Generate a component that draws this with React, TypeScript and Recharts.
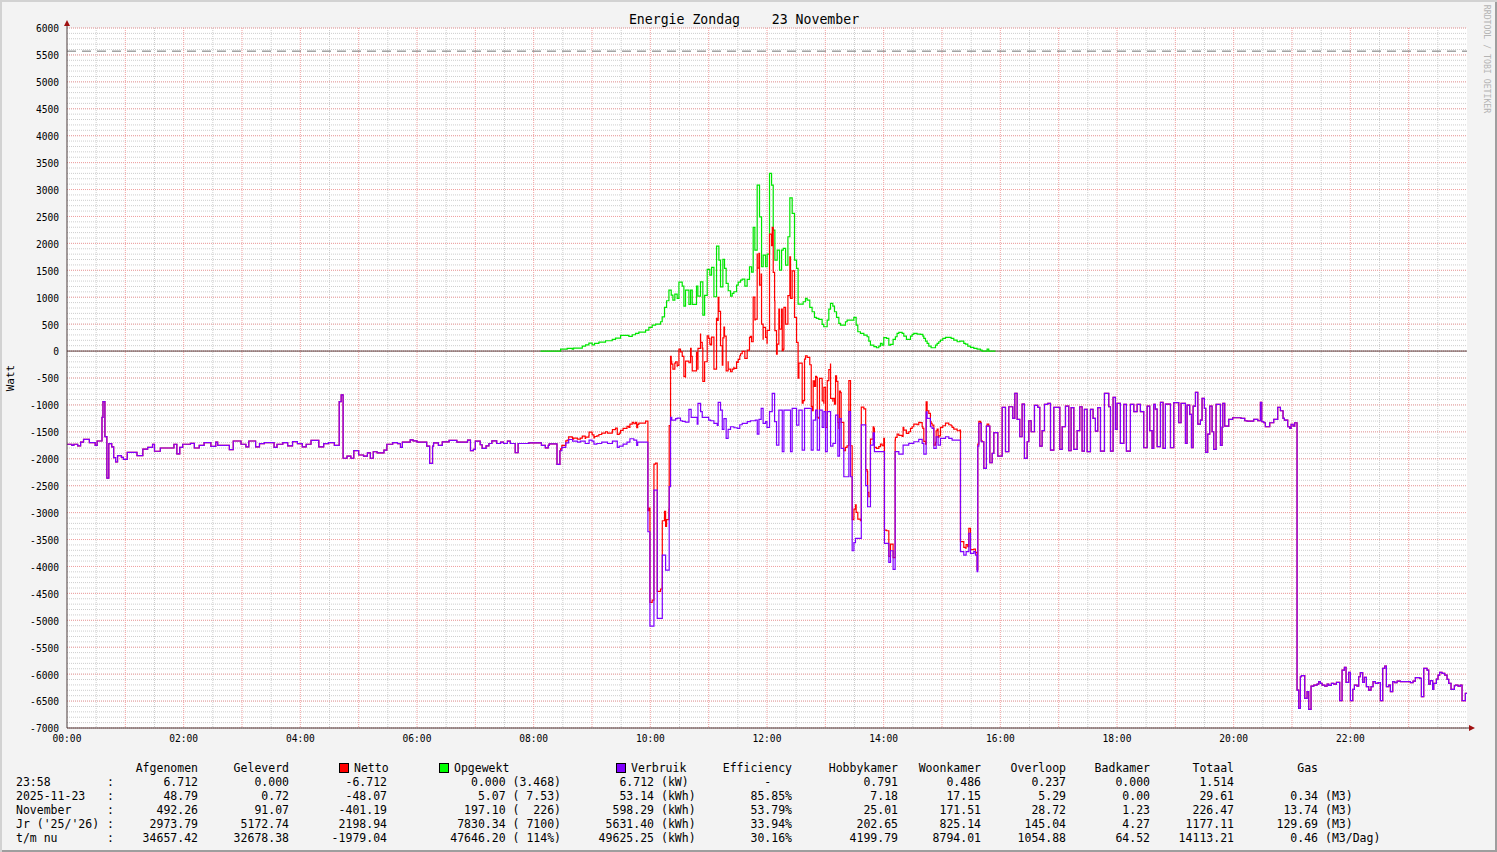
import React from 'react';
import { LineChart, Line, XAxis, YAxis, CartesianGrid, ReferenceLine, ReferenceDot } from 'recharts';

const W = 1497;
const H = 852;
const MONO = '"DejaVu Sans Mono", "Liberation Mono", monospace';

// Verbruik (consumption) in Watt, [minute of day, value] step breakpoints
const VERBRUIK: [number, number][] = [
  [0,-1730],[5,-1750],[7,-1730],[11,-1760],[14,-1690],[17,-1640],[23,-1700],[29,-1750],[31,-1670],[36,-1230],[37,-940],[39,-1590],[41,-2360],[43,-1720],[46,-1780],[48,-1980],[50,-2060],[52,-1940],[56,-1975],[58,-2010],[62,-1880],[72,-1940],[78,-1820],[83,-1790],[88,-1730],[90,-1860],[96,-1800],[110,-1730],[113,-1910],[116,-1790],[119,-1730],[127,-1715],[131,-1800],[136,-1750],[141,-1700],[148,-1770],[153,-1690],[155,-1750],[167,-1830],[171,-1670],[179,-1730],[184,-1780],[187,-1670],[194,-1780],[198,-1720],[203,-1700],[213,-1790],[216,-1730],[222,-1700],[227,-1760],[232,-1680],[237,-1720],[242,-1780],[246,-1730],[251,-1660],[259,-1780],[264,-1720],[269,-1700],[275,-1750],[280,-940],[282,-815],[284,-1990],[288,-1950],[292,-1990],[295,-1850],[300,-1930],[305,-1950],[309,-1890],[312,-1990],[315,-1870],[319,-1890],[326,-1840],[329,-1730],[335,-1700],[340,-1720],
  [343,-1790],[345,-1690],[353,-1650],[356,-1666],[360,-1690],[370,-1765],[373,-2086],[376,-1765],[377,-1703],[382,-1753],[386,-1685],[393,-1660],[401,-1690],[412,-1654],[415,-1850],[418,-1827],[420,-1673],[425,-1740],[427,-1808],[431,-1759],[434,-1716],[437,-1666],[442,-1716],[446,-1690],[449,-1716],[453,-1673],[456,-1716],[461,-1888],[464,-1716],[475,-1703],[488,-1753],[492,-1796],[495,-1753],[496,-1722],[504,-2105],[507,-1851],[509,-1790],[513,-1703],[516,-1642],[520,-1673],[525,-1690],[528,-1673],[533,-1716],[537,-1654],[540,-1673],[542,-1728],[545,-1716],[550,-1690],[556,-1716],[561,-1673],[566,-1790],[568,-1765],[572,-1727],[576,-1690],[579,-1628],[583,-1653],[586,-1752],[587,-1690],
  [597.5,-3355],[599.6,-5107],[603.7,-2581],[607.1,-4964],[612.3,-3788],[615.7,-4067],[619.4,-2519],[620.8,-1232],[622,-1281],[626,-1256],[627.7,-1244],[631,-1294],[633,-1306],[636,-1318],[639.7,-1083],[642,-1232],[648.2,-1356],[649,-972],[651.7,-1126],[653.4,-1232],[660,-1281],[662,-1294],[665.4,-1343],[668.8,-1380],[669.8,-953],[672.2,-1095],[674,-1455],[675.7,-1256],[678,-1622],[680,-1455],[682.5,-1405],[686,-1424],[689.4,-1436],[692,-1368],[694.5,-1343],[699.7,-1312],[703,-1294],[708,-1281],[710,-1541],[711.7,-1269],[714,-1065],[716,-1343],[718.5,-1312],[720,-1418],[722.6,-1126],[725.4,-786],[727.8,-1312],[729.8,-1745],[732.2,-1095],[735.7,-1869],[737.4,-1095],[744.2,-1869],[745.9,-1065],[750.4,-1374],[752.8,-1095],[756.2,-1838],[758.6,-1065],[765.5,-1838],[767.5,-1281],[770,-1095],[771.7,-1838],[774,-1095],[776.8,-1418],[778.5,-1126],[780.2,-1869],[782,-1126],[785.4,-1764],[787.8,-1715],[790.5,-1188],[792.9,-1950],[794.6,-1256],[796.3,-1807],[799,-2334],[804.2,-1126],[805.9,-2334],[807.6,-3708],[809.4,-3559],[811,-3479],
  [817,-1370],[821.5,-2500],[823.5,-2891],[826.4,-1746],[829.2,-1517],[830.5,-1869],[840.8,-3572],[845.3,-3924],[847,-3708],[849.7,-4054],[851.8,-1869],[855.6,-1913],[860,-1746],[865.8,-1715],[871,-1684],[876.1,-1640],[879.6,-1715],[881.3,-1913],[883.7,-1127],[884.7,-1250],[888.1,-1405],[889.8,-1436],[891.6,-1807],[894,-1591],[896,-1746],[898.4,-1622],[903.6,-1591],[907,-1622],[910.4,-1653],[919,-3726],[922.4,-3788],[924.8,-3726],[927.6,-3386],[929.3,-3757],[932.7,-3726],[934.4,-3788],[936.1,-4098],[936.8,-1764],[937.9,-1343],[940.3,-1684],[943,-2179],[945.7,-1393],[949.2,-2074],[951.6,-1900],[953.3,-1516],[957.4,-1950],[961.9,-1046],[965.3,-1869],[968.7,-1034],
  [972.8,-1250],[974.9,-786],[977.3,-1269],[980,-1591],[982.4,-984],[984.8,-1993],[987.6,-1684],[989.3,-1294],[991.7,-1498],[995.1,-1009],[998.5,-1046],[1000.6,-1764],[1003,-1479],[1005.4,-990],[1008.8,-972],[1011.6,-1838],[1015,-1046],[1021.2,-1826],[1023.6,-1405],[1027,-1021],[1030.4,-1851],[1032.8,-1052],[1035.6,-1826],[1039,-1479],[1041.7,-1034],[1044.1,-1857],[1046.5,-1083],[1049.3,-1869],[1052.7,-1083],[1055.4,-1250],[1057.8,-1485],[1060.2,-1052],[1063,-1857],[1067.1,-786],[1071.5,-1034],[1073.3,-1857],[1076,-860],[1078.4,-1455],[1080.1,-972],[1083.5,-1715],[1087,-990],[1089.7,-1857],[1093.8,-990],[1097.3,-1126],[1100.7,-990],[1104.1,-1126],[1107.5,-1795],[1111,-1021],[1113.7,-1479],[1116.1,-1807],[1117.8,-990],[1119.5,-1077],[1121.3,-1776],[1124.7,-953],[1127.4,-1807],[1129.8,-984],[1135,-1795],[1138.4,-959],[1143.5,-1331],[1145.9,-972],[1150.4,-1715],[1152.1,-1003],[1154.8,-1176],[1156.6,-1795],[1158.3,-1021],[1160.7,-767],[1163.1,-1356],
  [1165.8,-1281],[1167.5,-879],[1169.9,-1065],[1171.3,-1882],[1173.3,-1541],[1175.4,-1021],[1177.8,-1498],[1179.5,-1826],[1181.9,-990],[1186.4,-1752],[1188.1,-1417],[1188.8,-972],[1190.8,-1393],[1194.9,-1269],[1199,-1238],[1207.6,-1250],[1211.4,-1294],[1213.8,-1300],[1220.6,-1269],[1224.8,-1294],[1227.5,-953],[1228.9,-1312],[1230.9,-1331],[1232.6,-1405],[1237.1,-1331],[1241.2,-1269],[1245.3,-1046],[1248.1,-1108],[1250.8,-1250],[1252.2,-1281],[1255.6,-1405],[1257.7,-1436],[1259.1,-1362],[1261.1,-1393],[1262.8,-1331],
  [1265.2,-6295],[1266.9,-6635],[1268.6,-6048],[1269.7,-6029],[1273.1,-6450],[1275.5,-6326],[1277.2,-6654],[1279.6,-6221],[1282.4,-6202],[1285.8,-6184],[1287.5,-6140],[1289.2,-6171],[1290.9,-6202],[1293.7,-6221],[1296.1,-6184],[1297.8,-6209],[1300.5,-6171],[1302.9,-6184],[1305.7,-6153],[1309.1,-6493],[1311.5,-5924],[1313.9,-5874],[1315.6,-6153],[1318.3,-5967],[1320.1,-6493],[1322.5,-6283],[1324.2,-6202],[1326.9,-6221],[1328.6,-6048],[1330.3,-5973],[1332.7,-6153],[1334.5,-6060],[1336.5,-6233],[1338.9,-6295],[1341.3,-6233],[1343.4,-6140],[1345.8,-6171],[1348.5,-6159],[1350.9,-6493],[1353.3,-5893],[1355.4,-5849],[1357.1,-6233],[1359.5,-6202],[1361.2,-6326],[1363.6,-6140],[1365.7,-6159],[1368.1,-6128],[1371.5,-6140],[1381.8,-6159],[1384.5,-6128],[1386.9,-6066],[1391.4,-6079],[1393.1,-6419],[1395.5,-5893],[1398.9,-5924],[1400.6,-6184],[1402.3,-6122],[1404.7,-6283],[1405.8,-6171],[1408.5,-6091],[1410.2,-6017],[1411.9,-5967],[1414.3,-5986],[1417.1,-6017],[1419.5,-6097],[1421.2,-6171],[1423.6,-6283],[1427,-6215],[1428.1,-6202],[1430.8,-6221],[1433.2,-6202],[1434.9,-6493],[1438.3,-6357],[1440,-6357],
];

// Opgewekt (solar production) in Watt, [minute of day, value]; only recorded during daylight
const OPGEWEKT: [number, number][] = [
  [487,0],[507.7,37],[514.5,49],[519.7,37],[521,55],[530,93],[533.4,117],[536.8,148],[540.2,117],[542.6,142],[547.1,167],[553.9,192],[560.8,216],[564.2,241],[569.4,291],[577.9,272],[581.4,303],[584.8,328],[588.2,353],[595.1,390],[598.5,439],[601.9,483],[605.4,501],[610.5,545],[612.2,637],[614.6,811],[616.7,935],[619.1,1133],[621.5,1040],[623.2,947],[625.2,1058],[627.6,978],[629.4,1281],[632.8,1207],[634.5,836],[636.2,1133],[639.7,866],[641.4,1133],[643.1,866],[647.5,1207],[648.9,1021],[651.6,1287],[654,668],[655.8,1034],[658.5,1516],[661.2,1411],[663,1554],[665.4,1009],[668.1,1950],[670.5,1690],[672.2,1194],[674.6,1702],[676.3,1535],[678,1256],[680.1,1120],[682.5,1021],[684.2,1071],[685.9,1102],[688.7,1225],[690.4,1281],[692.8,1318],[694.5,1337],[697.2,1207],[699.6,1331],[702,1566],[704.1,1467],[705.8,2296],[707.5,1875],[709.9,3082],[712.3,2494],[714.4,1566],[716.1,1783],[718.5,1566],[720.2,1801],[722.6,3299],[724.7,3082],[726.4,2247],[728.1,1690],[730.5,1875],[732.9,1504],[735,1875],[736.7,1906],[739.1,1597],[741.5,2123],[743.5,2847],[745.9,2556],[748.3,1690],[750.4,1535],[752,873],[757.2,916],[759.6,978],[761.3,947],[764,811],[766.4,730],[768.8,625],[770.9,607],[773.3,588],[776.7,495],[778.4,452],[781.9,576],[783.6,780],[785.3,885],[787.7,836],[789.4,730],[791.5,625],[793.9,514],[795.6,483],[800.7,545],[802.4,576],[809.3,625],[811.7,483],[813.4,359],[816.1,328],[819.6,297],[823,266],[824.7,186],[826.4,111],[829.9,81],[832.6,62],[835,93],[836.7,142],[838.4,111],[840.1,248],[842.9,235],[845.3,111],[847,124],[849.7,217],[852.1,266],[853.8,328],[855.6,347],[859,328],[860.7,279],[863.4,217],[867.6,279],[869.3,310],[871,328],[874.4,316],[877.8,310],[880.3,279],[881.3,235],[883,186],[884.7,142],[886.4,93],[888.8,62],[893.3,111],[895,142],[896.7,173],[898.4,204],[900.8,235],[903.6,254],[909.4,235],[912.1,204],[915.6,173],[918.3,186],[922.4,142],[924.1,130],[926.5,93],[929.3,68],[932.7,50],[936.1,37],[939.5,19],[941.3,0],[946.4,37],[948.1,0],[955,0],
];

const X_TICKS = [0, 120, 240, 360, 480, 600, 720, 840, 960, 1080, 1200, 1320];
const Y_TICKS = [6000, 5500, 5000, 4500, 4000, 3500, 3000, 2500, 2000, 1500, 1000, 500, 0, -500, -1000, -1500, -2000, -2500, -3000, -3500, -4000, -4500, -5000, -5500, -6000, -6500, -7000];
const MAJOR_X = [60, 120, 180, 240, 300, 360, 420, 480, 540, 600, 660, 720, 780, 840, 900, 960, 1020, 1080, 1140, 1200, 1260, 1320, 1380];
const MINOR_X = [30, 90, 150, 210, 270, 330, 390, 450, 510, 570, 630, 690, 750, 810, 870, 930, 990, 1050, 1110, 1170, 1230, 1290, 1350, 1410];
const MINOR_Y = Array.from({ length: 131 }, (_, i) => -7000 + i * 100);
const MAX_LINE = 5570;

// Legend table
const ROW_LABELS = ['23:58', '2025-11-23', 'November', "Jr ('25/'26)", 't/m nu'];
const AFGENOMEN = ['6.712', '48.79', '492.26', '2973.79', '34657.42'];
const GELEVERD = ['0.000', '0.72', '91.07', '5172.74', '32678.38'];
const NETTO_TXT = ['-6.712', '-48.07', '-401.19', '2198.94', '-1979.04'];
const OPGEWEKT_TXT = ['0.000 (3.468)', '5.07 ( 7.53)', '197.10 (  226)', '7830.34 ( 7100)', '47646.20 ( 114%)'];
const VERBRUIK_TXT = ['6.712', '53.14', '598.29', '5631.40', '49625.25'];
const VERBRUIK_UNIT = ['(kW)', '(kWh)', '(kWh)', '(kWh)', '(kWh)'];
const EFFICIENCY = ['-   ', '85.85%', '53.79%', '33.94%', '30.16%'];
const HOBBY = ['0.791', '7.18', '25.01', '202.65', '4199.79'];
const WOON = ['0.486', '17.15', '171.51', '825.14', '8794.01'];
const OVERLOOP = ['0.237', '5.29', '28.72', '145.04', '1054.88'];
const BADKAMER = ['0.000', '0.00', '1.23', '4.27', '64.52'];
const TOTAAL = ['1.514', '29.61', '226.47', '1177.11', '14113.21'];
const GAS = ['', '0.34', '13.74', '129.69', '0.46'];
const GAS_UNIT = ['', '(M3)', '(M3)', '(M3)', '(M3/Dag)'];

const C_NETTO = '#ff0000';
const C_OPGEWEKT = '#00e600';
const C_VERBRUIK = '#8000ff';
const C_AXIS = '#4a3a3a';
const C_ZERO = '#5a4444';
const C_ARROW = '#a01010';
const SW = 1.2;

const stepValue = (pairs: [number, number][], t: number) => {
  let v = pairs[0][1];
  for (const [pt, pv] of pairs) {
    if (pt <= t) v = pv;
    else break;
  }
  return v;
};

const G_START = OPGEWEKT[0][0];
const G_END = OPGEWEKT[OPGEWEKT.length - 1][0];
const TIMES = Array.from(new Set([...VERBRUIK.map((p) => p[0]), ...OPGEWEKT.map((p) => p[0])])).sort((a, b) => a - b);
const DATA = TIMES.map((t) => {
  const v = stepValue(VERBRUIK, t);
  const inSun = t >= G_START && t <= G_END;
  const g = inSun ? stepValue(OPGEWEKT, t) : null;
  return { t, verbruik: v, opgewekt: g, netto: v + (g ?? 0) };
});

const toPx = (axis: any, v: number) => {
  const s = axis?.scale;
  if (typeof s === 'function') return s(v);
  if (s && typeof s.map === 'function') return s.map(v);
  return NaN;
};
const genH = (vals: number[]) => ({ yAxis }: any) => vals.map((v) => toPx(yAxis, v));
const genV = (vals: number[]) => ({ xAxis }: any) => vals.map((v) => toPx(xAxis, v));

const fmtTime = (m: number) => `${String(Math.floor(m / 60)).padStart(2, '0')}:00`;

const UpArrow = (p: any) => (
  <g>
    <line x1={p.cx} y1={p.cy} x2={p.cx} y2={p.cy - 5} stroke={C_AXIS} strokeWidth={1} />
    <path d={`M${p.cx - 3},${p.cy - 2} L${p.cx + 3},${p.cy - 2} L${p.cx},${p.cy - 8} Z`} fill={C_ARROW} />
  </g>
);
const RightArrow = (p: any) => (
  <g>
    <line x1={p.cx} y1={p.cy} x2={p.cx + 5} y2={p.cy} stroke={C_AXIS} strokeWidth={1} />
    <path d={`M${p.cx + 2},${p.cy - 3} L${p.cx + 2},${p.cy + 3} L${p.cx + 8},${p.cy} Z`} fill={C_ARROW} />
  </g>
);

const txt: React.CSSProperties = {
  position: 'absolute',
  fontFamily: MONO,
  fontSize: 11.5,
  lineHeight: '14px',
  whiteSpace: 'pre',
  color: '#000',
};

const RightCell = ({ right, y, children }: { right: number; y: number; children: React.ReactNode }) => (
  <div style={{ ...txt, right: W - right, top: y - 7 }}>{children}</div>
);
const LeftCell = ({ left, y, children }: { left: number; y: number; children: React.ReactNode }) => (
  <div style={{ ...txt, left, top: y - 7 }}>{children}</div>
);
const Box = ({ left, color }: { left: number; color: string }) => (
  <div style={{ position: 'absolute', left, top: 763, width: 8, height: 8, background: color, border: '1px solid #000' }} />
);

const ROW_Y = [782, 796, 810, 824, 838];
const HEAD_Y = 768;

export default function App() {
  return (
    <div
      style={{
        position: 'fixed',
        left: 0,
        top: 0,
        width: W,
        height: H,
        background: '#f3f3f3',
        boxShadow: 'inset 2px 2px 0 #d2d2d2, inset -2px -2px 0 #9e9e9e',
        overflow: 'hidden',
      }}
    >
      <div style={{ position: 'absolute', left: 0, top: 0 }}>
        <LineChart width={W} height={H} data={DATA} margin={{ top: 28, right: 30, bottom: 94, left: 0 }}>
          <CartesianGrid
            fill="#ffffff"
            stroke="#cdcdcd"
            strokeDasharray="1 1"
            horizontalCoordinatesGenerator={genH(MINOR_Y)}
            verticalCoordinatesGenerator={genV(MINOR_X)}
          />
          <CartesianGrid
            fill="none"
            stroke="#f2a0a0"
            strokeDasharray="1 1"
            horizontalCoordinatesGenerator={genH(Y_TICKS)}
            verticalCoordinatesGenerator={genV(MAJOR_X)}
          />
          <XAxis
            dataKey="t"
            type="number"
            domain={[0, 1440]}
            ticks={X_TICKS}
            tickFormatter={fmtTime}
            interval={0}
            height={30}
            tickLine={false}
            tickSize={5}
            axisLine={{ stroke: C_AXIS }}
            tick={{ fontFamily: MONO, fontSize: 9.6, fill: '#000' }}
            allowDataOverflow
          />
          <YAxis
            type="number"
            domain={[-7000, 6000]}
            ticks={Y_TICKS}
            interval={0}
            width={67}
            tickLine={false}
            axisLine={{ stroke: C_AXIS }}
            tick={{ fontFamily: MONO, fontSize: 9.6, fill: '#000', dy: 1 }}
            allowDataOverflow
          />
          <ReferenceLine y={0} stroke={C_ZERO} strokeWidth={1} />
          <Line type="stepAfter" dataKey="opgewekt" stroke={C_OPGEWEKT} strokeWidth={SW} dot={false} activeDot={false} isAnimationActive={false} />
          <Line type="stepAfter" dataKey="netto" stroke={C_NETTO} strokeWidth={SW} dot={false} activeDot={false} isAnimationActive={false} />
          <Line type="stepAfter" dataKey="verbruik" stroke={C_VERBRUIK} strokeWidth={SW} dot={false} activeDot={false} isAnimationActive={false} />
          <ReferenceLine y={MAX_LINE} stroke="#707070" strokeDasharray="9 6" />
          <ReferenceDot x={0} y={6000} ifOverflow="visible" shape={UpArrow} />
          <ReferenceDot x={1440} y={-7000} ifOverflow="visible" shape={RightArrow} />
        </LineChart>
      </div>

      <div style={{ position: 'absolute', left: 544, width: 400, top: 12, textAlign: 'center', fontFamily: MONO, fontSize: 13.2, lineHeight: '16px', whiteSpace: 'pre', color: '#000' }}>
        {'Energie Zondag    23 November'}
      </div>
      <div style={{ position: 'absolute', left: 10, top: 378, transform: 'translate(-50%, -50%) rotate(-90deg)', fontFamily: MONO, fontSize: 11, whiteSpace: 'pre', color: '#000' }}>
        Watt
      </div>
      <div style={{ position: 'absolute', left: 1487, top: 59, transform: 'translate(-50%, -50%) rotate(90deg)', fontFamily: MONO, fontSize: 8.2, whiteSpace: 'pre', color: '#b4b4b4' }}>
        {'RRDTOOL / TOBI OETIKER'}
      </div>

      {/* Legend header */}
      <RightCell right={198} y={HEAD_Y}>Afgenomen</RightCell>
      <RightCell right={289} y={HEAD_Y}>Geleverd</RightCell>
      <Box left={339} color={C_NETTO} />
      <LeftCell left={354} y={HEAD_Y}>Netto</LeftCell>
      <Box left={439} color="#00ff00" />
      <LeftCell left={454} y={HEAD_Y}>Opgewekt</LeftCell>
      <Box left={616} color={C_VERBRUIK} />
      <LeftCell left={631} y={HEAD_Y}>Verbruik</LeftCell>
      <RightCell right={792} y={HEAD_Y}>Efficiency</RightCell>
      <RightCell right={898} y={HEAD_Y}>Hobbykamer</RightCell>
      <RightCell right={981} y={HEAD_Y}>Woonkamer</RightCell>
      <RightCell right={1066} y={HEAD_Y}>Overloop</RightCell>
      <RightCell right={1150} y={HEAD_Y}>Badkamer</RightCell>
      <RightCell right={1234} y={HEAD_Y}>Totaal</RightCell>
      <RightCell right={1318} y={HEAD_Y}>Gas</RightCell>

      {ROW_Y.map((y, i) => (
        <React.Fragment key={i}>
          <LeftCell left={16} y={y}>{ROW_LABELS[i]}</LeftCell>
          <LeftCell left={107} y={y}>:</LeftCell>
          <RightCell right={198} y={y}>{AFGENOMEN[i]}</RightCell>
          <RightCell right={289} y={y}>{GELEVERD[i]}</RightCell>
          <RightCell right={387} y={y}>{NETTO_TXT[i]}</RightCell>
          <RightCell right={561} y={y}>{OPGEWEKT_TXT[i]}</RightCell>
          <RightCell right={654} y={y}>{VERBRUIK_TXT[i]}</RightCell>
          <LeftCell left={661} y={y}>{VERBRUIK_UNIT[i]}</LeftCell>
          <RightCell right={792} y={y}>{EFFICIENCY[i]}</RightCell>
          <RightCell right={898} y={y}>{HOBBY[i]}</RightCell>
          <RightCell right={981} y={y}>{WOON[i]}</RightCell>
          <RightCell right={1066} y={y}>{OVERLOOP[i]}</RightCell>
          <RightCell right={1150} y={y}>{BADKAMER[i]}</RightCell>
          <RightCell right={1234} y={y}>{TOTAAL[i]}</RightCell>
          <RightCell right={1318} y={y}>{GAS[i]}</RightCell>
          <LeftCell left={1325} y={y}>{GAS_UNIT[i]}</LeftCell>
        </React.Fragment>
      ))}
    </div>
  );
}
